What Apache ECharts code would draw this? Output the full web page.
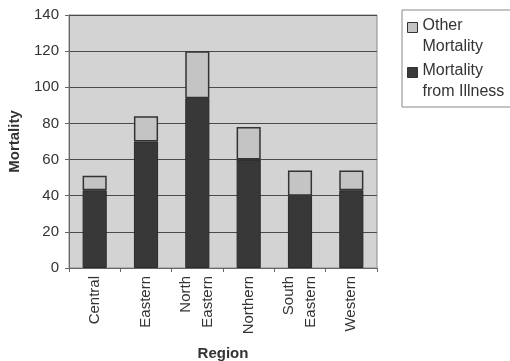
<!DOCTYPE html>
<html><head><meta charset="utf-8">
<script src="https://cdn.jsdelivr.net/npm/echarts@6/dist/echarts.min.js"></script>
<style>html,body{margin:0;padding:0;background:#fff}#c{width:510px;height:361px}</style>
</head><body><div id="c"></div>
<script>
const categories = ['Central', 'Eastern', 'North\nEastern', 'Northern', 'South\nEastern', 'Western'];
const illness = [43, 70, 94, 60, 40, 43];
const other = [8, 14, 26, 18, 14, 11];
const yTicks = [0, 20, 40, 60, 80, 100, 120, 140];

const font = 'Liberation Sans, Arial, sans-serif';
// square at the top of a tall item box so it sits beside the first text line
const topIcon = 'path://M0,0L0.01,0M0,8L10,8L10,18L0,18ZM0,43L0.01,43';
const chart = echarts.init(document.getElementById('c'));
chart.setOption({
  animation: false,
  textStyle: { fontFamily: font },
  grid: { left: 69, right: 133, top: 15, bottom: 93, outerBoundsMode: 'none', containLabel: false,
    show: true, backgroundColor: '#d3d3d3', borderColor: '#8a8a8a', borderWidth: 1 },
  legend: {
    orient: 'vertical', left: 402, top: 10,
    itemWidth: 10, itemHeight: 43, itemGap: 1,
    padding: [4, 14, 4, 5],
    borderColor: '#888', borderWidth: 1, backgroundColor: '#fff',
    textStyle: { fontSize: 16, color: '#333', fontFamily: font, lineHeight: 21.5 },
    data: [
      { name: 'Other\nMortality', icon: topIcon, itemStyle: { color: '#c4c4c4', borderColor: '#333', borderWidth: 1 } },
      { name: 'Mortality\nfrom Illness', icon: topIcon, itemStyle: { color: '#3a3a3a', borderColor: '#333', borderWidth: 1 } }
    ]
  },
  xAxis: {
    type: 'category', data: categories,
    name: 'Region', nameLocation: 'middle', nameGap: 78,
    nameTextStyle: { fontWeight: 'bold', fontSize: 15, color: '#333', fontFamily: font },
    axisLine: { lineStyle: { color: '#666' } },
    axisTick: { show: true, length: 4, lineStyle: { color: '#666' } },
    axisLabel: { rotate: 90, fontSize: 15, color: '#333', margin: 8, lineHeight: 22 }
  },
  yAxis: {
    type: 'value', min: yTicks[0], max: yTicks[yTicks.length - 1], interval: 20,
    name: 'Mortality', nameLocation: 'middle', nameGap: 47,
    nameTextStyle: { fontWeight: 'bold', fontSize: 15, color: '#333', fontFamily: font },
    axisLine: { show: true, lineStyle: { color: '#666' } },
    axisTick: { show: true, length: 4, lineStyle: { color: '#666' } },
    axisLabel: { fontSize: 15, color: '#333', margin: 10 },
    splitLine: { lineStyle: { color: '#4a4a4a', width: 1 } }
  },
  series: [
    { name: 'Mortality\nfrom Illness', type: 'bar', stack: 't', data: illness, barWidth: '47%',
      itemStyle: { color: '#383838', borderColor: '#2a2a2a', borderWidth: 1 } },
    { name: 'Other\nMortality', type: 'bar', stack: 't', data: other, barWidth: '47%',
      itemStyle: { color: '#c4c4c4', borderColor: '#333', borderWidth: 1.5 } }
  ]
});
</script></body></html>
